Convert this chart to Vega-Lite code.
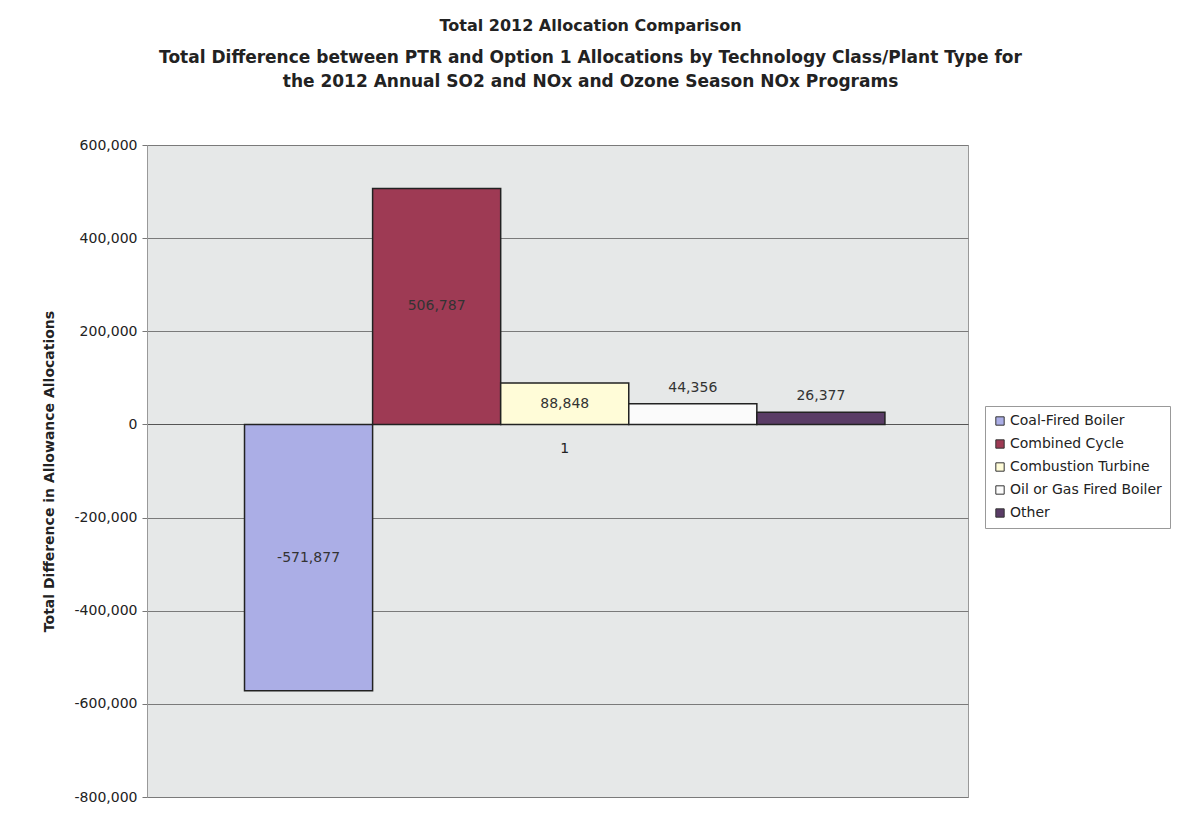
{
  "$schema": "https://vega.github.io/schema/vega-lite/v6.json",
  "width": 821,
  "height": 652,
  "autosize": {"type": "none"},
  "padding": {"left": 147, "top": 145, "right": 227, "bottom": 34},
  "background": "white",
  "title": {
    "text": "Total 2012 Allocation Comparison",
    "subtitle": ["Total Difference between PTR and Option 1 Allocations by Technology Class/Plant Type for", "the 2012 Annual SO2 and NOx and Ozone Season NOx Programs"],
    "anchor": "middle",
    "dx": 33,
    "font": "DejaVu Sans",
    "fontSize": 16,
    "fontWeight": "bold",
    "color": "#222",
    "subtitleFont": "DejaVu Sans",
    "subtitleFontSize": 17,
    "subtitleFontWeight": "bold",
    "subtitleColor": "#222",
    "subtitlePadding": 16,
    "subtitleLineHeight": 24,
    "offset": 48
  },
  "data": {
    "values": [
      {"cat": "1", "series": "Coal-Fired Boiler", "value": -571877},
      {"cat": "1", "series": "Combined Cycle", "value": 506787},
      {"cat": "1", "series": "Combustion Turbine", "value": 88848},
      {"cat": "1", "series": "Oil or Gas Fired Boiler", "value": 44356},
      {"cat": "1", "series": "Other", "value": 26377}
    ]
  },
  "encoding": {
    "x": {
      "field": "cat", "type": "nominal",
      "scale": {"paddingOuter": 0.141, "paddingInner": 0, "align": 0.54},
      "axis": {"orient": "bottom", "offset": -373, "title": null, "labelAngle": 0, "ticks": false, "grid": false, "domain": true, "domainColor": "#555", "labelFont": "DejaVu Sans", "labelFontSize": 14, "labelColor": "#222", "labelPadding": 17}
    },
    "xOffset": {
      "field": "series", "type": "nominal",
      "sort": ["Coal-Fired Boiler", "Combined Cycle", "Combustion Turbine", "Oil or Gas Fired Boiler", "Other"],
      "scale": {"paddingInner": 0, "paddingOuter": 0}
    }
  },
  "layer": [
    {
      "mark": {"type": "bar", "stroke": "#222", "strokeWidth": 1.5},
      "encoding": {
        "y": {
          "field": "value", "type": "quantitative",
          "scale": {"domain": [-800000, 600000], "nice": false, "zero": true},
          "axis": {
            "values": [-800000, -600000, -400000, -200000, 0, 200000, 400000, 600000],
            "format": ",.0f",
            "title": "Total Difference in Allowance Allocations",
            "titleFont": "DejaVu Sans", "titleFontSize": 14, "titleFontWeight": "bold", "titleColor": "#222", "titlePadding": 18,
            "labelFont": "DejaVu Sans", "labelFontSize": 14, "labelColor": "#222", "labelPadding": 5,
            "tickColor": "#777", "tickSize": 5, "gridColor": "#7a7a7a", "gridWidth": 1.2, "domainColor": "#999"
          }
        },
        "color": {
          "field": "series", "type": "nominal",
          "scale": {
            "domain": ["Coal-Fired Boiler", "Combined Cycle", "Combustion Turbine", "Oil or Gas Fired Boiler", "Other"],
            "range": ["#abaee6", "#9e3a54", "#fffcd8", "#fbfbfb", "#5a3c66"]
          },
          "legend": {
            "orient": "none", "legendX": 838, "legendY": 261, "title": null,
            "fillColor": "white", "strokeColor": "#999", "padding": 8, "cornerRadius": 0,
            "symbolType": "square", "symbolSize": 70, "symbolStrokeColor": "#333", "symbolStrokeWidth": 1, "symbolOpacity": 1,
            "labelFont": "DejaVu Sans", "labelFontSize": 14, "labelColor": "#222", "labelOffset": 3, "rowPadding": 9
          }
        }
      }
    },
    {
      "transform": [{"filter": "datum.series == 'Coal-Fired Boiler' || datum.series == 'Combined Cycle' || datum.series == 'Combustion Turbine'"}],
      "mark": {"type": "text", "font": "DejaVu Sans", "fontSize": 14, "color": "#333", "baseline": "middle"},
      "encoding": {
        "y": {"field": "value", "type": "quantitative", "scale": {"domain": [-1600000, 1200000], "nice": false, "zero": true}, "axis": null},
        "text": {"field": "value", "type": "quantitative", "format": ",.0f"}
      }
    },
    {
      "transform": [{"filter": "datum.series == 'Oil or Gas Fired Boiler' || datum.series == 'Other'"}],
      "mark": {"type": "text", "font": "DejaVu Sans", "fontSize": 14, "color": "#333", "baseline": "bottom", "dy": -9},
      "encoding": {
        "y": {"field": "value", "type": "quantitative", "scale": {"domain": [-800000, 600000], "nice": false, "zero": true}, "axis": null},
        "text": {"field": "value", "type": "quantitative", "format": ",.0f"}
      }
    }
  ],
  "resolve": {"scale": {"y": "independent"}},
  "config": {
    "locale": {"number": {"decimal": ".", "thousands": ",", "grouping": [3], "currency": ["$", ""], "minus": "-"}},
    "view": {"fill": "#e6e8e8", "stroke": "#999"},
    "axisY": {"gridOpacity": 1}
  }
}
